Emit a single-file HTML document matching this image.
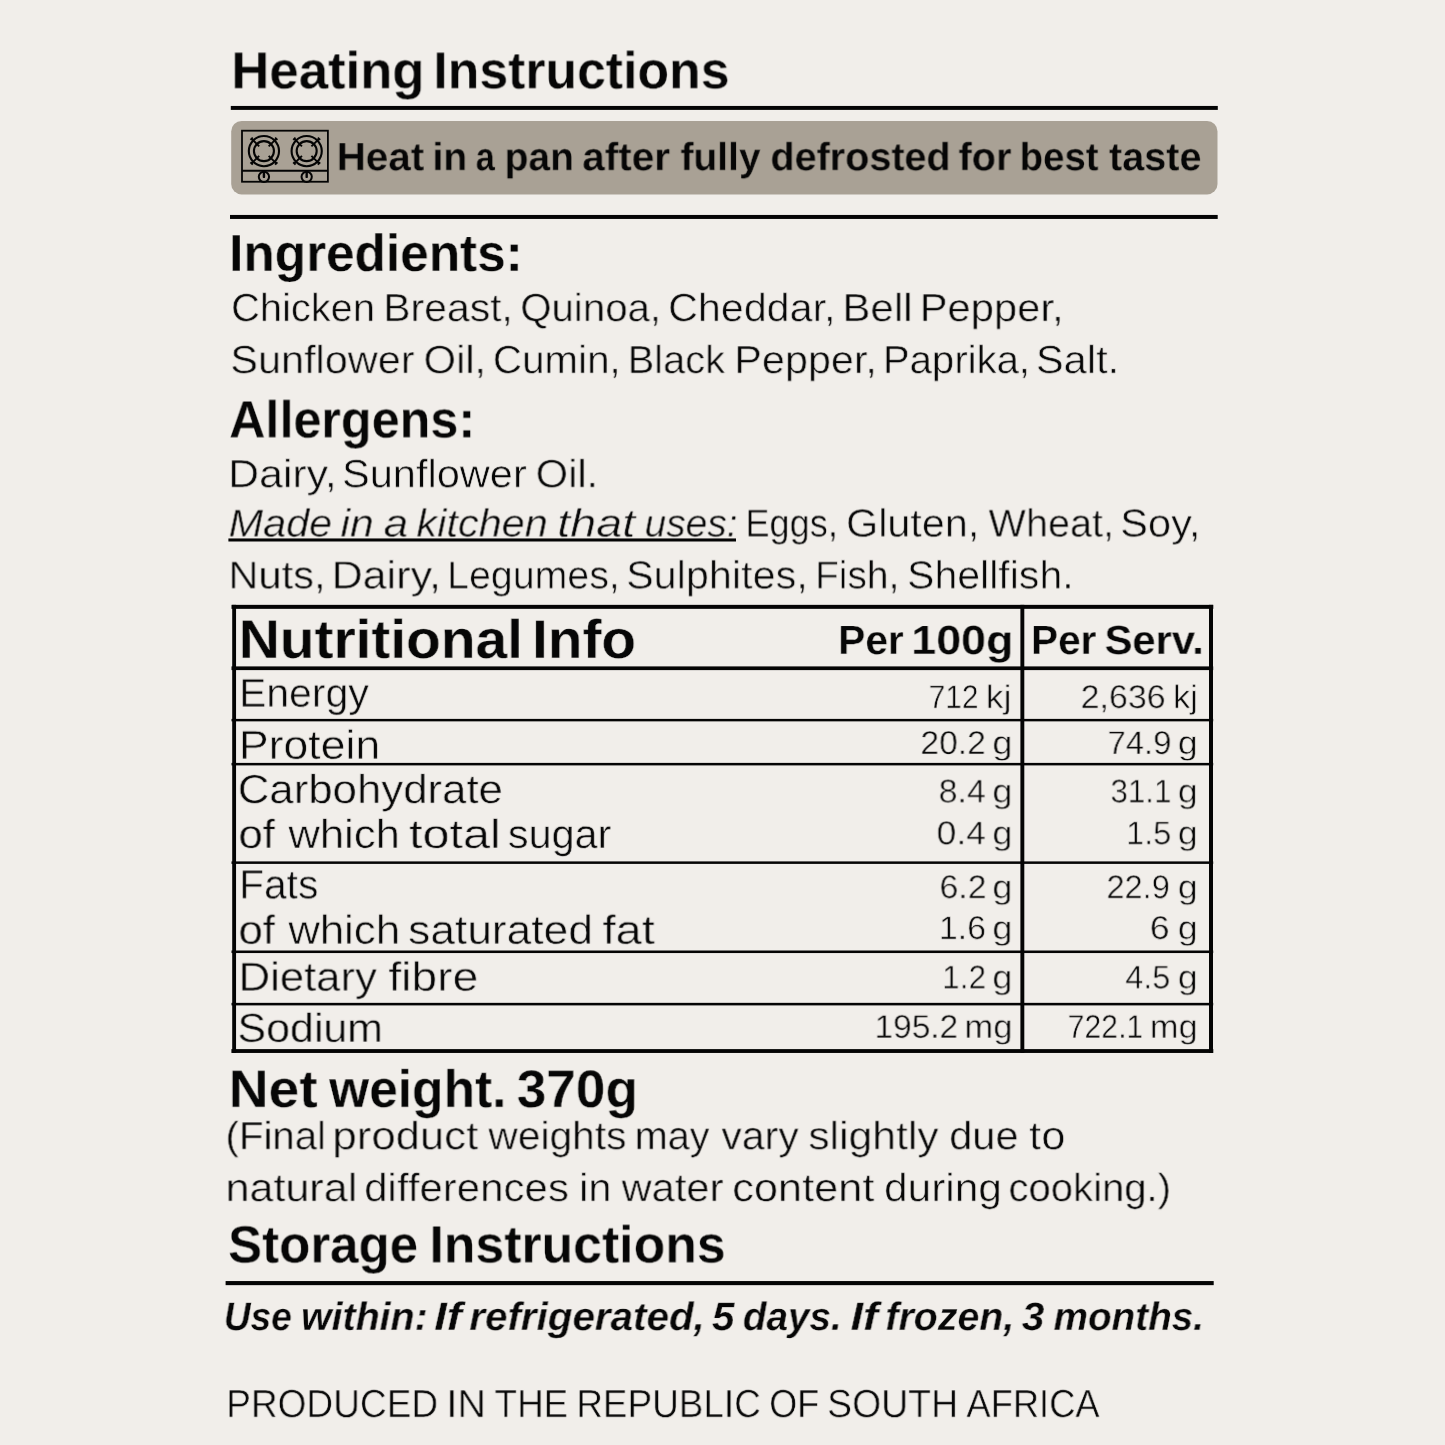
<!DOCTYPE html>
<html><head><meta charset="utf-8"><title>Label</title>
<style>
html,body{margin:0;padding:0}
body{width:1445px;height:1445px;background:#f1eeea;position:relative;overflow:hidden;font-family:"Liberation Sans",sans-serif;color:#060606}
.t{position:absolute;left:0;top:0;white-space:nowrap;line-height:1;transform-origin:0 0;font-weight:400;will-change:transform;text-rendering:geometricPrecision}
.t{-webkit-text-stroke:0.55px #f1eeea}
.b{font-weight:700;-webkit-text-stroke-width:0.3px}
.hb{-webkit-text-stroke-color:#a9a195}
.i{font-style:italic}
.g{position:absolute;left:0;top:0}
</style></head><body>
<svg class="g" width="1445" height="1445" viewBox="0 0 1445 1445">
<rect x="231.2" y="121" width="986.3" height="73.4" rx="10.4" fill="#a9a195"/>
<g fill="none" stroke="#040404" stroke-width="2.1">
<rect x="242" y="130.7" width="85.9" height="51.05" stroke-width="1.8"/>
<line x1="242" y1="170.85" x2="328" y2="170.85" stroke-width="2"/>
<g id="bn">
<circle cx="263.93" cy="151.1" r="15.1"/><circle cx="263.93" cy="151.1" r="10"/>
<path d="M259.19 146.36L251.63 138.80M250.48 139.95L252.78 137.65M259.19 155.84L251.63 163.40M252.78 164.55L250.48 162.25M268.67 146.36L276.23 138.80M275.08 137.65L277.38 139.95M268.67 155.84L276.23 163.40M277.38 162.25L275.08 164.55" stroke-width="1.9"/>
<circle cx="263.93" cy="176.85" r="5.14" stroke-width="2"/><path d="M263.93 171.5v5.4" stroke-width="2.4" stroke-linecap="round"/>
</g>
<use href="#bn" x="42.75"/>
</g>
<g fill="#040404">
<rect x="230.80" y="105.95" width="987.00" height="3.95"/>
<rect x="230.00" y="214.95" width="987.70" height="4.00"/>
<rect x="231.50" y="604.85" width="981.80" height="4.00"/>
<rect x="231.50" y="666.40" width="981.70" height="3.70"/>
<rect x="231.40" y="1049.10" width="981.90" height="3.85"/>
<rect x="232.20" y="604.85" width="3.85" height="448.10"/>
<rect x="1020.40" y="604.85" width="3.90" height="448.10"/>
<rect x="1209.00" y="604.85" width="4.00" height="448.10"/>
<rect x="231.50" y="718.90" width="981.70" height="2.45"/>
<rect x="231.50" y="762.90" width="981.70" height="2.50"/>
<rect x="231.50" y="861.40" width="981.70" height="2.50"/>
<rect x="231.50" y="950.50" width="981.70" height="2.55"/>
<rect x="231.50" y="1002.85" width="981.70" height="2.55"/>
<rect x="225.60" y="1281.05" width="988.10" height="4.10"/>
<rect x="228.40" y="538.45" width="507.60" height="3.05"/>
</g>
</svg>
<div class="t b" style="font-size:52.30px;transform:translate(231.30px,45.43px) rotate(0.001deg) scaleX(1.0081)">Heating</div>
<div class="t b" style="font-size:52.30px;transform:translate(433.35px,45.43px) rotate(0.001deg) scaleX(0.9896)">Instructions</div>
<div class="t b hb" style="font-size:39.32px;transform:translate(336.80px,138.23px) rotate(0.001deg) scaleX(1.0255)">Heat</div>
<div class="t b hb" style="font-size:39.32px;transform:translate(432.51px,138.23px) rotate(0.001deg) scaleX(0.9905)">in</div>
<div class="t b hb" style="font-size:39.32px;transform:translate(475.70px,138.23px) rotate(0.001deg) scaleX(0.8731)">a</div>
<div class="t b hb" style="font-size:39.32px;transform:translate(504.65px,138.23px) rotate(0.001deg) scaleX(0.9901)">pan</div>
<div class="t b hb" style="font-size:39.32px;transform:translate(582.26px,138.23px) rotate(0.001deg) scaleX(1.0313)">after</div>
<div class="t b hb" style="font-size:39.32px;transform:translate(680.53px,138.23px) rotate(0.001deg) scaleX(0.9906)">fully</div>
<div class="t b hb" style="font-size:39.32px;transform:translate(770.44px,138.23px) rotate(0.001deg) scaleX(1.0062)">defrosted</div>
<div class="t b hb" style="font-size:39.32px;transform:translate(958.54px,138.23px) rotate(0.001deg) scaleX(1.0083)">for</div>
<div class="t b hb" style="font-size:39.32px;transform:translate(1019.71px,138.23px) rotate(0.001deg) scaleX(0.9742)">best</div>
<div class="t b hb" style="font-size:39.32px;transform:translate(1108.95px,138.23px) rotate(0.001deg) scaleX(1.0086)">taste</div>
<div class="t b" style="font-size:52.30px;transform:translate(229.12px,228.03px) rotate(0.001deg) scaleX(0.9814)">Ingredients:</div>
<div class="t" style="font-size:39.27px;transform:translate(231.12px,289.13px) rotate(0.001deg) scaleX(1.0141)">Chicken</div>
<div class="t" style="font-size:39.27px;transform:translate(383.25px,289.13px) rotate(0.001deg) scaleX(1.0426)">Breast,</div>
<div class="t" style="font-size:39.27px;transform:translate(520.33px,289.13px) rotate(0.001deg) scaleX(1.0235)">Quinoa,</div>
<div class="t" style="font-size:39.27px;transform:translate(668.13px,289.13px) rotate(0.001deg) scaleX(1.0503)">Cheddar,</div>
<div class="t" style="font-size:39.27px;transform:translate(842.41px,289.13px) rotate(0.001deg) scaleX(1.0710)">Bell</div>
<div class="t" style="font-size:39.27px;transform:translate(919.70px,289.13px) rotate(0.001deg) scaleX(1.0629)">Pepper,</div>
<div class="t" style="font-size:39.27px;transform:translate(230.30px,341.13px) rotate(0.001deg) scaleX(1.0561)">Sunflower</div>
<div class="t" style="font-size:39.27px;transform:translate(423.55px,341.13px) rotate(0.001deg) scaleX(1.0623)">Oil,</div>
<div class="t" style="font-size:39.27px;transform:translate(492.84px,341.13px) rotate(0.001deg) scaleX(1.0273)">Cumin,</div>
<div class="t" style="font-size:39.27px;transform:translate(627.65px,341.13px) rotate(0.001deg) scaleX(1.0141)">Black</div>
<div class="t" style="font-size:39.27px;transform:translate(734.21px,341.13px) rotate(0.001deg) scaleX(1.0548)">Pepper,</div>
<div class="t" style="font-size:39.27px;transform:translate(882.86px,341.13px) rotate(0.001deg) scaleX(1.0222)">Paprika,</div>
<div class="t" style="font-size:39.27px;transform:translate(1035.89px,341.13px) rotate(0.001deg) scaleX(1.0600)">Salt.</div>
<div class="t b" style="font-size:52.40px;transform:translate(229.07px,394.53px) rotate(0.001deg) scaleX(0.9607)">Allergens:</div>
<div class="t" style="font-size:39.27px;transform:translate(228.17px,455.23px) rotate(0.001deg) scaleX(1.0904)">Dairy,</div>
<div class="t" style="font-size:39.27px;transform:translate(342.01px,455.23px) rotate(0.001deg) scaleX(1.0583)">Sunflower</div>
<div class="t" style="font-size:39.27px;transform:translate(535.64px,455.23px) rotate(0.001deg) scaleX(1.0604)">Oil.</div>
<div class="t i" style="font-size:39.00px;transform:translate(228.60px,504.53px) rotate(0.001deg) scaleX(1.0622)">Made</div>
<div class="t i" style="font-size:39.00px;transform:translate(340.58px,504.53px) rotate(0.001deg) scaleX(1.0948)">in</div>
<div class="t i" style="font-size:39.00px;transform:translate(383.52px,504.53px) rotate(0.001deg) scaleX(1.1298)">a</div>
<div class="t i" style="font-size:39.00px;transform:translate(416.50px,504.53px) rotate(0.001deg) scaleX(1.0631)">kitchen</div>
<div class="t i" style="font-size:39.00px;transform:translate(557.22px,504.53px) rotate(0.001deg) scaleX(1.1980)">that</div>
<div class="t i" style="font-size:39.00px;transform:translate(644.59px,504.53px) rotate(0.001deg) scaleX(0.9961)">uses:</div>
<div class="t" style="font-size:39.00px;transform:translate(745.41px,504.53px) rotate(0.001deg) scaleX(0.9267)">Eggs,</div>
<div class="t" style="font-size:39.00px;transform:translate(846.11px,504.53px) rotate(0.001deg) scaleX(1.0592)">Gluten,</div>
<div class="t" style="font-size:39.00px;transform:translate(988.53px,504.53px) rotate(0.001deg) scaleX(1.0155)">Wheat,</div>
<div class="t" style="font-size:39.00px;transform:translate(1120.13px,504.53px) rotate(0.001deg) scaleX(1.0710)">Soy,</div>
<div class="t" style="font-size:39.00px;transform:translate(228.43px,556.43px) rotate(0.001deg) scaleX(1.0670)">Nuts,</div>
<div class="t" style="font-size:39.00px;transform:translate(331.66px,556.43px) rotate(0.001deg) scaleX(1.1042)">Dairy,</div>
<div class="t" style="font-size:39.00px;transform:translate(447.08px,556.43px) rotate(0.001deg) scaleX(1.0089)">Legumes,</div>
<div class="t" style="font-size:39.00px;transform:translate(626.14px,556.43px) rotate(0.001deg) scaleX(1.0607)">Sulphites,</div>
<div class="t" style="font-size:39.00px;transform:translate(815.15px,556.43px) rotate(0.001deg) scaleX(0.9947)">Fish,</div>
<div class="t" style="font-size:39.00px;transform:translate(907.03px,556.43px) rotate(0.001deg) scaleX(1.0530)">Shellfish.</div>
<div class="t b" style="font-size:54.39px;transform:translate(238.82px,613.03px) rotate(0.001deg) scaleX(1.0447)">Nutritional</div>
<div class="t b" style="font-size:54.39px;transform:translate(532.11px,613.03px) rotate(0.001deg) scaleX(1.0442)">Info</div>
<div class="t b" style="font-size:40.77px;transform:translate(838.18px,620.03px) rotate(0.001deg) scaleX(0.9993)">Per</div>
<div class="t b" style="font-size:40.77px;transform:translate(911.35px,620.03px) rotate(0.001deg) scaleX(1.0988)">100g</div>
<div class="t b" style="font-size:40.77px;transform:translate(1031.03px,620.03px) rotate(0.001deg) scaleX(0.9947)">Per</div>
<div class="t b" style="font-size:40.77px;transform:translate(1104.63px,620.03px) rotate(0.001deg) scaleX(1.0240)">Serv.</div>
<div class="t" style="font-size:40.19px;transform:translate(239.10px,673.68px) rotate(0.001deg) scaleX(1.0188)">Energy</div>
<div class="t" style="font-size:40.49px;transform:translate(238.95px,724.78px) rotate(0.001deg) scaleX(1.1008)">Protein</div>
<div class="t" style="font-size:40.49px;transform:translate(237.78px,769.08px) rotate(0.001deg) scaleX(1.0809)">Carbohydrate</div>
<div class="t" style="font-size:40.49px;transform:translate(238.46px,813.93px) rotate(0.001deg) scaleX(1.0819)">of</div>
<div class="t" style="font-size:40.49px;transform:translate(288.32px,813.93px) rotate(0.001deg) scaleX(1.0783)">which</div>
<div class="t" style="font-size:40.49px;transform:translate(408.95px,813.93px) rotate(0.001deg) scaleX(1.2010)">total</div>
<div class="t" style="font-size:40.49px;transform:translate(507.85px,813.93px) rotate(0.001deg) scaleX(1.0213)">sugar</div>
<div class="t" style="font-size:40.79px;transform:translate(239.12px,864.43px) rotate(0.001deg) scaleX(0.9992)">Fats</div>
<div class="t" style="font-size:40.49px;transform:translate(238.48px,909.73px) rotate(0.001deg) scaleX(1.0816)">of</div>
<div class="t" style="font-size:40.49px;transform:translate(288.29px,909.73px) rotate(0.001deg) scaleX(1.0810)">which</div>
<div class="t" style="font-size:40.49px;transform:translate(408.11px,909.73px) rotate(0.001deg) scaleX(1.0953)">saturated</div>
<div class="t" style="font-size:40.49px;transform:translate(602.46px,909.73px) rotate(0.001deg) scaleX(1.1655)">fat</div>
<div class="t" style="font-size:40.49px;transform:translate(238.59px,956.63px) rotate(0.001deg) scaleX(1.0782)">Dietary</div>
<div class="t" style="font-size:40.49px;transform:translate(388.30px,956.63px) rotate(0.001deg) scaleX(1.1422)">fibre</div>
<div class="t" style="font-size:40.49px;transform:translate(237.45px,1007.83px) rotate(0.001deg) scaleX(1.0611)">Sodium</div>
<div class="t" style="font-size:32.92px;transform:translate(928.74px,681.13px) rotate(0.001deg) scaleX(0.9086)">712</div>
<div class="t" style="font-size:32.92px;transform:translate(985.82px,681.13px) rotate(0.001deg) scaleX(1.0715)">kj</div>
<div class="t" style="font-size:32.92px;transform:translate(1080.67px,681.13px) rotate(0.001deg) scaleX(1.0302)">2,636</div>
<div class="t" style="font-size:32.92px;transform:translate(1172.96px,681.13px) rotate(0.001deg) scaleX(1.0492)">kj</div>
<div class="t" style="font-size:32.92px;transform:translate(920.44px,727.03px) rotate(0.001deg) scaleX(1.0204)">20.2</div>
<div class="t" style="font-size:32.92px;transform:translate(992.39px,727.03px) rotate(0.001deg) scaleX(1.0985)">g</div>
<div class="t" style="font-size:32.92px;transform:translate(1107.63px,727.03px) rotate(0.001deg) scaleX(0.9964)">74.9</div>
<div class="t" style="font-size:32.92px;transform:translate(1177.87px,727.03px) rotate(0.001deg) scaleX(1.0790)">g</div>
<div class="t" style="font-size:32.92px;transform:translate(938.66px,775.43px) rotate(0.001deg) scaleX(1.0293)">8.4</div>
<div class="t" style="font-size:32.92px;transform:translate(992.37px,775.43px) rotate(0.001deg) scaleX(1.0992)">g</div>
<div class="t" style="font-size:32.92px;transform:translate(1110.51px,775.43px) rotate(0.001deg) scaleX(0.9519)">31.1</div>
<div class="t" style="font-size:32.92px;transform:translate(1177.86px,775.43px) rotate(0.001deg) scaleX(1.0799)">g</div>
<div class="t" style="font-size:32.92px;transform:translate(936.62px,817.28px) rotate(0.001deg) scaleX(1.0754)">0.4</div>
<div class="t" style="font-size:32.92px;transform:translate(992.38px,817.28px) rotate(0.001deg) scaleX(1.0990)">g</div>
<div class="t" style="font-size:32.92px;transform:translate(1126.13px,817.28px) rotate(0.001deg) scaleX(0.9842)">1.5</div>
<div class="t" style="font-size:32.92px;transform:translate(1177.86px,817.28px) rotate(0.001deg) scaleX(1.0800)">g</div>
<div class="t" style="font-size:32.92px;transform:translate(939.55px,871.23px) rotate(0.001deg) scaleX(1.0258)">6.2</div>
<div class="t" style="font-size:32.92px;transform:translate(992.38px,871.23px) rotate(0.001deg) scaleX(1.0983)">g</div>
<div class="t" style="font-size:32.92px;transform:translate(1106.53px,871.23px) rotate(0.001deg) scaleX(0.9885)">22.9</div>
<div class="t" style="font-size:32.92px;transform:translate(1177.86px,871.23px) rotate(0.001deg) scaleX(1.0797)">g</div>
<div class="t" style="font-size:32.92px;transform:translate(938.89px,912.13px) rotate(0.001deg) scaleX(1.0280)">1.6</div>
<div class="t" style="font-size:32.92px;transform:translate(992.38px,912.13px) rotate(0.001deg) scaleX(1.0992)">g</div>
<div class="t" style="font-size:32.92px;transform:translate(1149.76px,912.13px) rotate(0.001deg) scaleX(1.0819)">6</div>
<div class="t" style="font-size:32.92px;transform:translate(1177.87px,912.13px) rotate(0.001deg) scaleX(1.0794)">g</div>
<div class="t" style="font-size:32.92px;transform:translate(942.09px,961.43px) rotate(0.001deg) scaleX(0.9622)">1.2</div>
<div class="t" style="font-size:32.92px;transform:translate(992.37px,961.43px) rotate(0.001deg) scaleX(1.0992)">g</div>
<div class="t" style="font-size:32.92px;transform:translate(1125.35px,961.43px) rotate(0.001deg) scaleX(0.9794)">4.5</div>
<div class="t" style="font-size:32.92px;transform:translate(1177.86px,961.43px) rotate(0.001deg) scaleX(1.0799)">g</div>
<div class="t" style="font-size:32.92px;transform:translate(874.54px,1010.83px) rotate(0.001deg) scaleX(1.0162)">195.2</div>
<div class="t" style="font-size:32.92px;transform:translate(964.35px,1010.83px) rotate(0.001deg) scaleX(1.0538)">mg</div>
<div class="t" style="font-size:32.92px;transform:translate(1067.70px,1010.83px) rotate(0.001deg) scaleX(0.9175)">722.1</div>
<div class="t" style="font-size:32.92px;transform:translate(1149.82px,1010.83px) rotate(0.001deg) scaleX(1.0450)">mg</div>
<div class="t b" style="font-size:52.93px;transform:translate(228.78px,1064.13px) rotate(0.001deg) scaleX(1.0403)">Net</div>
<div class="t b" style="font-size:52.93px;transform:translate(329.10px,1064.13px) rotate(0.001deg) scaleX(0.9731)">weight.</div>
<div class="t b" style="font-size:52.93px;transform:translate(516.77px,1064.13px) rotate(0.001deg) scaleX(1.0041)">370g</div>
<div class="t" style="font-size:39.34px;transform:translate(225.55px,1117.23px) rotate(0.001deg) scaleX(1.0218)">(Final</div>
<div class="t" style="font-size:39.34px;transform:translate(332.40px,1117.23px) rotate(0.001deg) scaleX(1.1117)">product</div>
<div class="t" style="font-size:39.34px;transform:translate(488.42px,1117.23px) rotate(0.001deg) scaleX(1.0355)">weights</div>
<div class="t" style="font-size:39.34px;transform:translate(634.71px,1117.23px) rotate(0.001deg) scaleX(1.0078)">may</div>
<div class="t" style="font-size:39.34px;transform:translate(721.40px,1117.23px) rotate(0.001deg) scaleX(1.0405)">vary</div>
<div class="t" style="font-size:39.34px;transform:translate(808.33px,1117.23px) rotate(0.001deg) scaleX(1.0839)">slightly</div>
<div class="t" style="font-size:39.34px;transform:translate(949.25px,1117.23px) rotate(0.001deg) scaleX(1.0558)">due</div>
<div class="t" style="font-size:39.34px;transform:translate(1029.19px,1117.23px) rotate(0.001deg) scaleX(1.1019)">to</div>
<div class="t" style="font-size:39.34px;transform:translate(225.52px,1169.13px) rotate(0.001deg) scaleX(1.0955)">natural</div>
<div class="t" style="font-size:39.34px;transform:translate(364.24px,1169.13px) rotate(0.001deg) scaleX(1.0676)">differences</div>
<div class="t" style="font-size:39.34px;transform:translate(579.12px,1169.13px) rotate(0.001deg) scaleX(1.0597)">in</div>
<div class="t" style="font-size:39.34px;transform:translate(621.76px,1169.13px) rotate(0.001deg) scaleX(1.0566)">water</div>
<div class="t" style="font-size:39.34px;transform:translate(732.21px,1169.13px) rotate(0.001deg) scaleX(1.1028)">content</div>
<div class="t" style="font-size:39.34px;transform:translate(884.08px,1169.13px) rotate(0.001deg) scaleX(1.0778)">during</div>
<div class="t" style="font-size:39.34px;transform:translate(1008.50px,1169.13px) rotate(0.001deg) scaleX(1.0189)">cooking.)</div>
<div class="t b" style="font-size:52.40px;transform:translate(228.08px,1219.53px) rotate(0.001deg) scaleX(0.9735)">Storage</div>
<div class="t b" style="font-size:52.40px;transform:translate(429.47px,1219.53px) rotate(0.001deg) scaleX(0.9876)">Instructions</div>
<div class="t b i" style="font-size:39.57px;transform:translate(223.87px,1298.03px) rotate(0.001deg) scaleX(0.9368)">Use</div>
<div class="t b i" style="font-size:39.57px;transform:translate(300.97px,1298.03px) rotate(0.001deg) scaleX(0.9949)">within:</div>
<div class="t b i" style="font-size:39.57px;transform:translate(434.03px,1298.03px) rotate(0.001deg) scaleX(1.1553)">If</div>
<div class="t b i" style="font-size:39.57px;transform:translate(469.36px,1298.03px) rotate(0.001deg) scaleX(1.0200)">refrigerated,</div>
<div class="t b i" style="font-size:39.57px;transform:translate(711.90px,1298.03px) rotate(0.001deg) scaleX(1.0256)">5</div>
<div class="t b i" style="font-size:39.57px;transform:translate(742.87px,1298.03px) rotate(0.001deg) scaleX(0.9761)">days.</div>
<div class="t b i" style="font-size:39.57px;transform:translate(850.40px,1298.03px) rotate(0.001deg) scaleX(1.1443)">If</div>
<div class="t b i" style="font-size:39.57px;transform:translate(885.44px,1298.03px) rotate(0.001deg) scaleX(0.9933)">frozen,</div>
<div class="t b i" style="font-size:39.57px;transform:translate(1021.80px,1298.03px) rotate(0.001deg) scaleX(1.0259)">3</div>
<div class="t b i" style="font-size:39.57px;transform:translate(1053.57px,1298.03px) rotate(0.001deg) scaleX(0.9783)">months.</div>
<div class="t" style="font-size:39.27px;transform:translate(226.16px,1385.13px) rotate(0.001deg) scaleX(0.9436)">PRODUCED</div>
<div class="t" style="font-size:39.27px;transform:translate(446.37px,1385.13px) rotate(0.001deg) scaleX(1.0052)">IN</div>
<div class="t" style="font-size:39.27px;transform:translate(494.58px,1385.13px) rotate(0.001deg) scaleX(0.9379)">THE</div>
<div class="t" style="font-size:39.27px;transform:translate(576.34px,1385.13px) rotate(0.001deg) scaleX(0.9395)">REPUBLIC</div>
<div class="t" style="font-size:39.27px;transform:translate(769.16px,1385.13px) rotate(0.001deg) scaleX(0.9193)">OF</div>
<div class="t" style="font-size:39.27px;transform:translate(827.08px,1385.13px) rotate(0.001deg) scaleX(0.9540)">SOUTH</div>
<div class="t" style="font-size:39.27px;transform:translate(966.39px,1385.13px) rotate(0.001deg) scaleX(0.9254)">AFRICA</div>
</body></html>
